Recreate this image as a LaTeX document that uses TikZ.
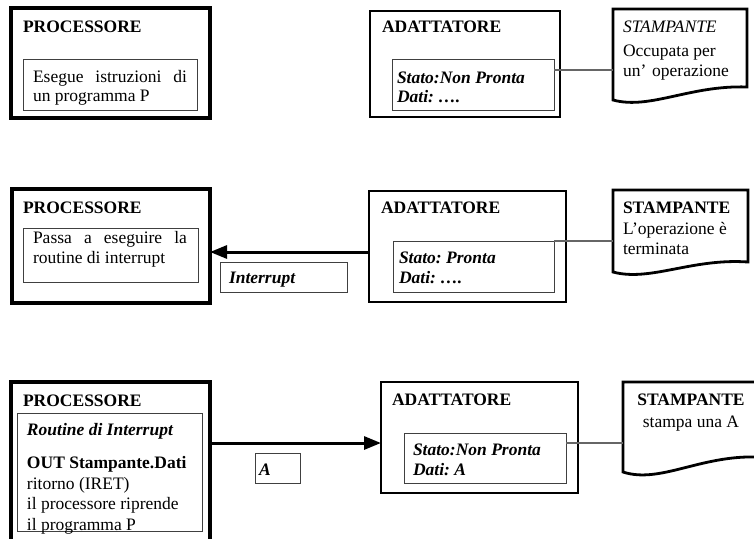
\documentclass[tikz,border=0pt]{standalone}
\usepackage{fontspec}
\setmainfont{Liberation Serif}
\usetikzlibrary{arrows.meta}
\frenchspacing

% rectangle node given by its corner coordinates
\newcommand\cornerbox[6]{%
  \node[#2, minimum width={#5-#3}, minimum height={#6-#4}] (#1) at ({(#3+#5)/2},{(#4+#6)/2}) {};}

\begin{document}
\begin{tikzpicture}[x=1pt,y=-1pt,
  every node/.style={inner sep=0pt, outer sep=0pt, font=\fontsize{17.5pt}{20pt}\selectfont},
  procbox/.style={draw, line width=4pt},
  adbox/.style={draw, line width=2.8pt},
  innerbox/.style={draw=black!75, line width=1pt},
  tagbox/.style={draw=black!75, line width=1pt},
  txt/.style={anchor=base west},
  ctxt/.style={anchor=base},
  link/.style={draw=black!60, line width=1.2pt},
  signal/.style={line width=3pt, -{Triangle[length=17pt,width=13pt]}},
  printer/.style={line width=2.8pt, line join=miter}
]
\useasboundingbox (0,0) rectangle (754,538);

% ---------------- first state: printer busy ----------------
\cornerbox{P1}{procbox}{11}{8}{210}{118}
\cornerbox{P1in}{innerbox}{23}{59}{197}{110}
\node[txt] (P1t) at (23,32) {\bfseries PROCESSORE};
\node[txt] (P1a) at (33,82) {\makebox[154pt][s]{Esegue istruzioni di}};
\node[txt] (P1b) at (33,101) {un programma P};

\cornerbox{A1}{adbox}{370}{11}{560}{117}
\cornerbox{A1in}{innerbox}{392}{59}{554}{110}
\node[txt] (A1t) at (382,32) {\bfseries ADATTATORE};
\node[txt] (A1a) at (397,83) {\bfseries\itshape Stato:Non Pronta};
\node[txt] (A1b) at (397,102) {\bfseries\itshape Dati: ….};

\draw[printer] (613,100) -- (613,9) -- (747,9) -- (747,87)
  .. controls (690,85) and (650,110) .. (613,100) -- cycle;
\coordinate (S1w) at (613,70);
\node[txt] (S1t) at (623,32) {\itshape STAMPANTE};
\node[txt] (S1a) at (623,56) {Occupata per};
\node[txt] (S1b) at (623,76) {un’\,\,operazione};
\draw[link] (A1in.east |- S1w) -- (S1w);

% ---------------- second state: interrupt request ----------------
\cornerbox{P2}{procbox}{12}{189}{210}{303}
\cornerbox{P2in}{innerbox}{23}{228}{198}{282}
\node[txt] (P2t) at (23,213) {\bfseries PROCESSORE};
\node[txt] (P2a) at (33,243) {\makebox[154pt][s]{Passa a eseguire la}};
\node[txt] (P2b) at (33,263) {routine di interrupt};

\cornerbox{IRQ}{tagbox}{220}{262}{347}{292}
\node[txt] (IRQt) at (229,283) {\bfseries\itshape Interrupt};

\cornerbox{A2}{adbox}{369}{191}{566}{302}
\cornerbox{A2in}{innerbox}{393}{241}{554}{292}
\node[txt] (A2t) at (381,213) {\bfseries ADATTATORE};
\node[txt] (A2a) at (399,263) {\bfseries\itshape Stato: Pronta};
\node[txt] (A2b) at (399,283) {\bfseries\itshape Dati: ….};

\draw[printer] (613,272) -- (613,190) -- (748,190) -- (748,262)
  .. controls (692,258) and (650,282) .. (613,272) -- cycle;
\coordinate (S2w) at (613,241);
\node[txt] (S2t) at (623,213) {\bfseries STAMPANTE};
\node[txt] (S2a) at (623,234) {L’operazione è};
\node[txt] (S2b) at (623,254) {terminata};
\draw[link] (A2in.east |- S2w) -- (S2w);

\coordinate (sig2) at (0,252);
\draw[signal] (A2.west |- sig2) -- (P2.east |- sig2);

% ---------------- third state: data transfer ----------------
\cornerbox{P3}{procbox}{11}{382}{210}{550}
\cornerbox{P3in}{innerbox}{17}{413}{202}{531}
\node[txt] (P3t) at (23,406) {\bfseries PROCESSORE};
\node[txt] (P3a) at (27,435) {\bfseries\itshape Routine di Interrupt};
\node[txt] (P3b) at (27,468) {\bfseries OUT Stampante.Dati};
\node[txt] (P3c) at (27,489) {ritorno (IRET)};
\node[txt] (P3d) at (27,509.5) {il processore riprende};
\node[txt] (P3e) at (27,530) {il programma P};

\cornerbox{Abox}{tagbox}{255}{453}{300}{483}
\node[txt] (Aboxt) at (259,475) {\bfseries\itshape A};

\cornerbox{A3}{adbox}{381}{382}{578}{493}
\cornerbox{A3in}{innerbox}{404}{433}{566}{483}
\node[txt] (A3t) at (392,405) {\bfseries ADATTATORE};
\node[txt] (A3a) at (413,455) {\bfseries\itshape Stato:Non Pronta};
\node[txt] (A3b) at (413,475) {\bfseries\itshape Dati: A};

\draw[printer] (623,472) -- (623,382) -- (758,382) -- (758,457)
  .. controls (700,455) and (660,484) .. (623,472) -- cycle;
\coordinate (S3w) at (623,443);
\node[ctxt] (S3t) at (691,405) {\bfseries STAMPANTE};
\node[ctxt] (S3a) at (691,427) {stampa una A};
\draw[link] (A3in.east |- S3w) -- (S3w);

\coordinate (sig3) at (0,443);
\draw[signal] (P3.east |- sig3) -- (A3.west |- sig3);
\end{tikzpicture}
\end{document}
